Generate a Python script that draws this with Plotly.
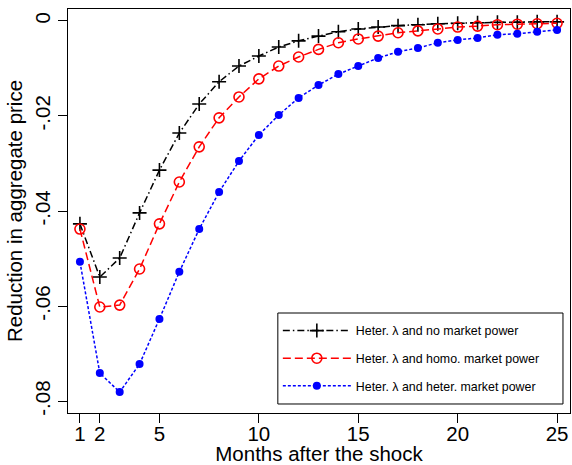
import plotly.graph_objects as go

months = list(range(1, 26))
no_power = [-0.0427, -0.0539, -0.0499, -0.0404, -0.0314, -0.0236, -0.0175, -0.0128, -0.0095,
            -0.0074, -0.0055, -0.0042, -0.0032, -0.0023, -0.0017, -0.0013, -0.0010, -0.0008,
            -0.0006, -0.0005, -0.0004, -0.0003, -0.0003, -0.0002, -0.0002]
homo_power = [-0.0438, -0.0602, -0.0598, -0.0522, -0.0427, -0.0339, -0.0265, -0.0204, -0.0160,
              -0.0122, -0.0095, -0.0076, -0.0060, -0.0046, -0.0038, -0.0032, -0.0025, -0.0021,
              -0.0017, -0.0013, -0.0011, -0.0008, -0.0007, -0.0006, -0.0005]
heter_power = [-0.0507, -0.0741, -0.0781, -0.0722, -0.0627, -0.0528, -0.0438, -0.0360, -0.0295,
               -0.0240, -0.0198, -0.0162, -0.0135, -0.0112, -0.0095, -0.0078, -0.0065, -0.0057,
               -0.0046, -0.0040, -0.0036, -0.0029, -0.0027, -0.0023, -0.0019]
x_ticks = [1, 2, 5, 10, 15, 20, 25]
y_ticks = [0, -0.02, -0.04, -0.06, -0.08]
y_tick_labels = ["0", "-.02", "-.04", "-.06", "-.08"]
names = ["Heter. λ and no market power",
         "Heter. λ and homo. market power",
         "Heter. λ and heter. market power"]

FONT = "Liberation Sans, Arial, sans-serif"
FS = 20.5
fig = go.Figure()
fig.add_trace(go.Scatter(x=months, y=no_power, name=names[0], mode="lines+markers", legendgroup="a",
                         line=dict(color="black", width=1.5, dash="7px,3px,1.5px,3px"),
                         marker=dict(symbol="cross-thin", size=10, line=dict(color="black", width=1.6))))
fig.add_trace(go.Scatter(x=months, y=homo_power, name=names[1], mode="lines+markers", legendgroup="b",
                         line=dict(color="red", width=1.5, dash="8px,4px"),
                         marker=dict(symbol="circle-open", size=10, color="red", line=dict(color="red", width=1.6))))
fig.add_trace(go.Scatter(x=months, y=heter_power, name=names[2], mode="lines+markers", legendgroup="c",
                         line=dict(color="blue", width=1.5, dash="3px,2px"),
                         marker=dict(symbol="circle", size=8, color="blue")))

axis_common = dict(showline=True, linecolor="black", linewidth=1.2, mirror=True, ticks="outside",
                   ticklen=9, tickcolor="black", showgrid=False, zeroline=False, automargin=False,
                   tickfont=dict(size=FS, color="black", family=FONT))
fig.update_xaxes(range=[0.4, 25.65], tickvals=x_ticks, ticktext=[str(v) for v in x_ticks],
                 ticklabelstandoff=-7,
                 title=dict(text="Months after the shock", font=dict(size=FS, color="black", family=FONT),
                            standoff=7),
                 **axis_common)
fig.update_yaxes(range=[-0.0825, 0.0025], tickvals=y_ticks, ticktext=y_tick_labels, tickangle=-90,
                 ticklabelstandoff=0,
                 title=dict(text="Reduction in aggregate price", font=dict(size=FS, color="black", family=FONT),
                            standoff=2),
                 **axis_common)
fig.add_shape(type="rect", xref="paper", yref="paper", x0=0.418, x1=0.986, y0=0.0223, y1=0.2475,
              line=dict(color="black", width=1), fillcolor="white", layer="above")
fig.update_layout(width=572, height=465, margin=dict(l=68, r=2, t=9, b=52),
                  paper_bgcolor="white", plot_bgcolor="white",
                  font=dict(family=FONT, color="black"),
                  legend=dict(x=0.418, y=0.240, xanchor="left", yanchor="top",
                              borderwidth=0, bgcolor="rgba(0,0,0,0)",
                              font=dict(size=12.4, color="black", family=FONT),
                              tracegroupgap=8.5, itemwidth=68))
fig.write_html("out.html", config={"displayModeBar": False},
               post_script="document.body.style.margin='0';document.body.style.overflow='hidden';")
